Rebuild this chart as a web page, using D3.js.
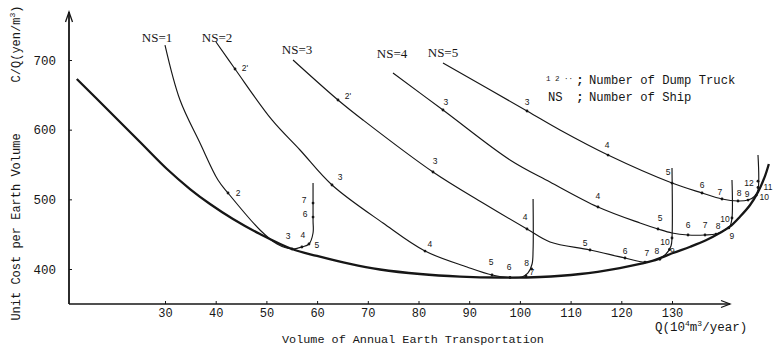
<!DOCTYPE html>
<html><head><meta charset="utf-8">
<script src="https://cdn.jsdelivr.net/npm/d3@7"></script>
<style>body{margin:0;background:#fff}svg{display:block}</style>
</head><body><svg id="c" width="777" height="350"></svg>
<script>
// ---------- data ----------
const xTicks = [30, 40, 50, 60, 70, 80, 90, 100, 110, 120, 130];
const yTicks = [400, 500, 600, 700];
const xTitle = "Volume of Annual Earth Transportation";
const yTitle = "Unit Cost per Earth Volume";

// envelope (minimum cost curve)  [Q, C/Q]
const envelope = [[12.6,672.7],[19.15,625.4],[25.07,582.3],[30.39,543.5],[34.93,514.8],[38.88,493.3],
  [43.41,471.8],[48.74,450.2],[55.05,428.7],[59.98,418.7],[66.5,407.2],[72.4,399.3],[80.3,392.8],
  [88.2,389.2],[96.1,387.8],[104.0,388.5],[111.9,392.8],[119.7,401.4],[123.7,407.2],[126.3,411.9],
  [130.2,423],[133.6,432],[136.8,441.6],[139.4,451.7],[141.4,460.7],[143.4,475.1],[145.4,491.9],
  [147.0,511],[148.3,532.5],[149.1,550.7]];

const ns1 = [[30,721.5],[32.96,642.6],[36.9,580.9],[40.45,527.7],[42.43,509.1],[48.74,456],[52.1,435.9],
  [55.05,428.7],[57.0,431.6],[58.4,435.9],[59.2,451.7],[59.2,470],[59.2,523.4]];
const ns2 = [[40.06,725.8],[43.81,687.1],[51.1,613.9],[56.63,570.8],[62.94,520.6],[73.0,466],[81.28,425.8],
  [89.57,402.9],[94.5,391.4],[98.05,387.8],[100.4,388.5],[101.6,394.3],[102.4,407.2],[102.6,427.3],[102.6,500.5]];
const ns3 = [[55.25,700],[64.12,642.6],[69.05,613.9],[82.86,539.2],[92.72,494.7],[101.4,457.4],[105.94,438.8],
  [113.83,427.3],[120.73,415.8],[124.67,410],[127.24,414.4],[128.82,421.5],[129.8,433],[130,444.5],[130,545]];
const ns4 = [[74.97,681.3],[84.83,628.2],[98.05,556.5],[105.94,524.9],[115.4,489],[123.69,466],[127.24,457.4],
  [130,451.7],[133.16,448.8],[136.51,448.8],[138.68,450.2],[140.45,456],[141.44,461.7],[141.83,473.2],[141.83,527.8]];
const ns5 = [[84.83,695.7],[101.4,626.8],[107.91,599.5],[117.38,563.6],[130,523.4],[135.92,509.1],[139.86,500.5],
  [143.02,497.6],[145,499],[146.37,504.8],[146.96,513.4],[146.96,563.6]];
const shipLabels = ["NS=1", "NS=2", "NS=3", "NS=4", "NS=5"];

// number of dump trucks marked along each curve [Q, C/Q, label]
const trucks1 = [[42.43,509.1,"2"],[55.05,428.7,"3"],[57.0,431.6,"4"],[58.4,435.9,"5"],[59.2,474.6,"6"],[59.2,494.7,"7"]];
const trucks2 = [[43.81,687.1,"2'"],[62.94,520.6,"3"],[81.28,425.8,"4"],[94.5,391.4,"5"],[98.05,387.8,"6"],[101.2,390,"7"],[102.3,400,"8"]];
const trucks3 = [[64.12,642.6,"2'"],[82.86,539.2,"3"],[101.4,457.4,"4"],[113.83,427.3,"5"],[120.73,415.8,"6"],[124.67,410,"7"],[127.6,414,"8"],[129.5,428,"9"],[130,444.5,"10"]];
const trucks4 = [[84.83,628.2,"3"],[115.4,489,"4"],[127.24,457.4,"5"],[133.16,448.8,"6"],[136.51,448.8,"7"],[138.68,450.2,"8"],[141.2,459,"9"],[141.83,473.2,"10"]];
const trucks5 = [[101.4,626.8,"3"],[117.38,563.6,"4"],[130,523.4,"5"],[135.92,509.1,"6"],[139.86,500.5,"7"],[143.02,497.6,"8"],[145,499,"9"],[146.6,506,"10"],[146.96,517,"11"],[146.96,526,"12"]];

// ---------- layout (pixel offsets for annotation text) ----------
const shipLabelOffsets = [[-8,-8],[1,-5],[4,-11],[-1,-20],[0,-10]];
const truckOffsets = [
  [[10,0],[-4,-13],[1,-12],[8,1],[-8,-3],[-9,-3]],
  [[10,-1],[8,-8],[5,-7],[-1,-13],[-1,-10],[6,-4],[-5,-6]],
  [[10,-4],[2,-11],[-2,-12],[-5,-7],[0,-7],[2,-9],[-3,-8],[3,2],[-7,4]],
  [[3,-8],[0,-11],[2,-11],[0,-10],[0,-10],[2,-8],[3,8],[-7,1]],
  [[0,-9],[-1,-10],[-4,-11],[0,-8],[-2,-7],[1,-8],[-1,-6],[8,2],[10,0],[-9,2]]
];

const W = 777, H = 350;
const ox = 69, oy = 304, xEnd = 730, yTop = 12;
const mono = "'Liberation Mono', 'DejaVu Sans Mono', monospace";
const ink = "#161616";

const svg = d3.select("#c");
svg.append("rect").attr("width", W).attr("height", H).attr("fill", "#fff");

const x = d3.scaleLinear().domain([30, 130]).range([165, 672]);
const y = d3.scaleLinear().domain([400, 700]).range([269, 60]);

// ---------- axes ----------
const xa = svg.append("g").attr("transform", `translate(0,${oy})`)
  .call(d3.axisBottom(x).tickValues(xTicks).tickSize(-3).tickPadding(4).tickFormat(d3.format("d")));
xa.select(".domain").remove();
xa.selectAll("line").attr("stroke", ink).attr("stroke-width", 1);
xa.selectAll("text").attr("font-family", mono).attr("font-size", 12).attr("fill", ink);

const ya = svg.append("g").attr("transform", `translate(${ox},0)`)
  .call(d3.axisLeft(y).tickValues(yTicks).tickSize(-3).tickPadding(13).tickFormat(d3.format("d")));
ya.select(".domain").remove();
ya.selectAll("line").attr("stroke", ink).attr("stroke-width", 1);
ya.selectAll("text").attr("font-family", mono).attr("font-size", 12.5).attr("fill", ink);

// axis lines with arrows
svg.append("line").attr("x1", ox).attr("y1", oy).attr("x2", xEnd).attr("y2", oy)
  .attr("stroke", ink).attr("stroke-width", 1.5);
svg.append("path").attr("d", `M${xEnd-9},${oy-3.5}L${xEnd},${oy}L${xEnd-9},${oy+3.5}`)
  .attr("fill", "none").attr("stroke", ink).attr("stroke-width", 1.3);
svg.append("line").attr("x1", ox).attr("y1", oy).attr("x2", ox).attr("y2", yTop)
  .attr("stroke", ink).attr("stroke-width", 1.8);
svg.append("path").attr("d", `M${ox-3.5},${yTop+10}L${ox},${yTop}L${ox+3.5},${yTop+10}`)
  .attr("fill", "none").attr("stroke", ink).attr("stroke-width", 1.3);

// axis titles
svg.append("text").attr("x", 282).attr("y", 340).attr("dominant-baseline", "central")
  .attr("font-family", mono).attr("font-size", 11.8).attr("fill", ink).text(xTitle);
const qt = svg.append("text").attr("x", 655).attr("y", 328).attr("dominant-baseline", "central")
  .attr("font-family", mono).attr("font-size", 12.5).attr("fill", ink);
qt.append("tspan").text("Q(10");
qt.append("tspan").attr("dy", -5).attr("font-size", 8).text("4");
qt.append("tspan").attr("dy", 5).text("m");
qt.append("tspan").attr("dy", -5).attr("font-size", 8).text("3");
qt.append("tspan").attr("dy", 5).text("/year)");

svg.append("text").attr("transform", "translate(17,227) rotate(-90)").attr("text-anchor", "middle")
  .attr("dominant-baseline", "central").attr("font-family", mono).attr("font-size", 12).attr("fill", ink)
  .text(yTitle);
const ct = svg.append("text").attr("transform", "translate(17,44) rotate(-90)").attr("text-anchor", "middle")
  .attr("dominant-baseline", "central").attr("font-family", mono).attr("font-size", 12).attr("fill", ink);
ct.append("tspan").text("C/Q(yen/m");
ct.append("tspan").attr("dy", -5).attr("font-size", 8).text("3");
ct.append("tspan").attr("dy", 5).text(")");

// ---------- curves ----------
const line = d3.line().x(d => x(d[0])).y(d => y(d[1])).curve(d3.curveCatmullRom.alpha(0.5));

svg.append("path").attr("d", line(envelope)).attr("fill", "none").attr("stroke", ink)
  .attr("stroke-width", 2.3).attr("stroke-linejoin", "round");

const curves = [ns1, ns2, ns3, ns4, ns5];
const trucks = [trucks1, trucks2, trucks3, trucks4, trucks5];

curves.forEach((c, i) => {
  svg.append("path").attr("d", line(c)).attr("fill", "none").attr("stroke", ink).attr("stroke-width", 1.15);
  svg.append("text").attr("x", x(c[0][0]) + shipLabelOffsets[i][0]).attr("y", y(c[0][1]) + shipLabelOffsets[i][1])
    .attr("text-anchor", "middle").attr("dominant-baseline", "central")
    .attr("font-family", "'Liberation Serif', 'DejaVu Serif', serif").attr("font-size", 13).attr("fill", ink)
    .text(shipLabels[i]);
  trucks[i].forEach((t, j) => {
    svg.append("circle").attr("cx", x(t[0])).attr("cy", y(t[1])).attr("r", 1.4).attr("fill", ink);
    const o = truckOffsets[i][j];
    svg.append("text").attr("x", x(t[0]) + o[0]).attr("y", y(t[1]) + o[1])
      .attr("text-anchor", "middle").attr("dominant-baseline", "central")
      .attr("font-family", "'Liberation Sans', 'DejaVu Sans', sans-serif").attr("font-size", 8.5).attr("fill", ink)
      .text(t[2]);
  });
});

// ---------- legend ----------
const lg = svg.append("g").attr("font-family", mono).attr("fill", ink);
lg.append("text").attr("x", 546).attr("y", 79).attr("dominant-baseline", "central").attr("font-size", 7.5).text("1 2 \u00B7\u00B7");
lg.append("text").attr("x", 580).attr("y", 81).attr("text-anchor", "middle").attr("dominant-baseline", "central")
  .attr("font-size", 12.2).attr("font-weight", "bold").text(";");
lg.append("text").attr("x", 589).attr("y", 81).attr("dominant-baseline", "central").attr("font-size", 12.2).text("Number of Dump Truck");
lg.append("text").attr("x", 548).attr("y", 98).attr("dominant-baseline", "central").attr("font-size", 12.2).text("NS");
lg.append("text").attr("x", 580).attr("y", 98).attr("text-anchor", "middle").attr("dominant-baseline", "central")
  .attr("font-size", 12.2).attr("font-weight", "bold").text(";");
lg.append("text").attr("x", 589).attr("y", 98).attr("dominant-baseline", "central").attr("font-size", 12.2).text("Number of Ship");
</script></body></html>
